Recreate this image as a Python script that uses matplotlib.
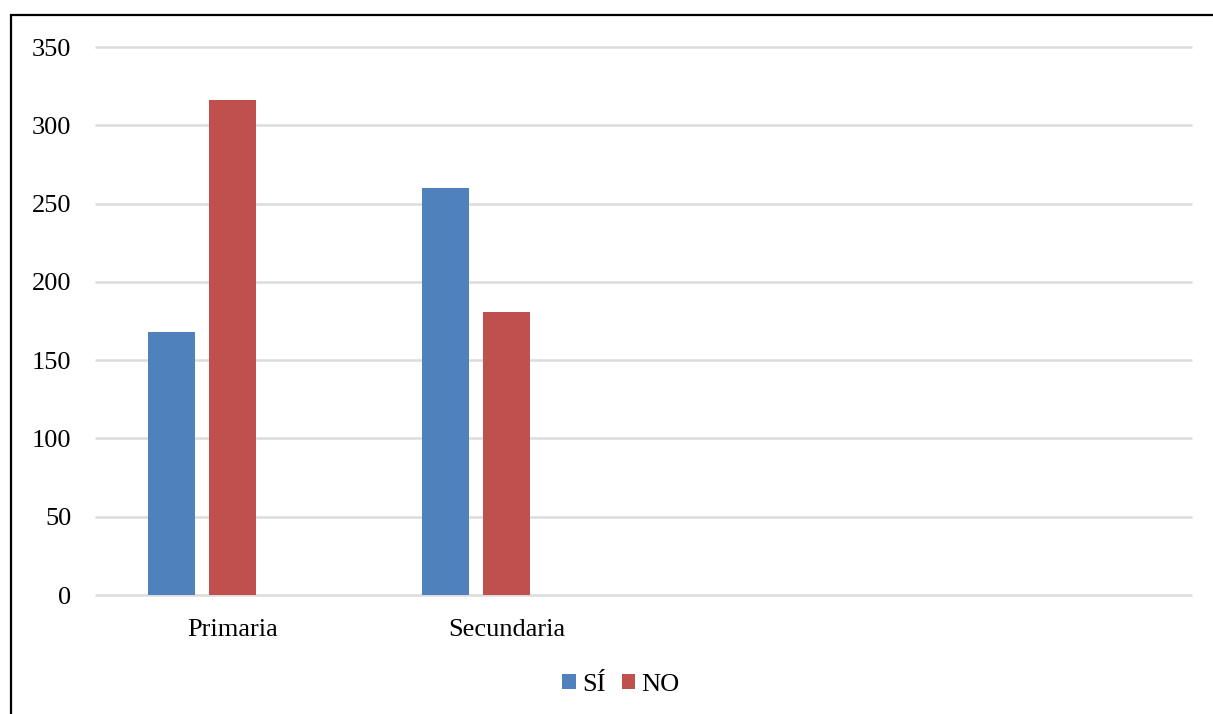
import matplotlib
matplotlib.use("Agg")
import matplotlib.pyplot as plt
import numpy as np
from matplotlib.patches import Rectangle

categories = ["Primaria", "Secundaria", "", ""]
si_values = [168, 260]
no_values = [316, 181]
y_ticks = [0, 50, 100, 150, 200, 250, 300, 350]

plt.rcParams['font.family'] = ['Liberation Serif', 'DejaVu Serif']

fig = plt.figure(figsize=(12.13, 7.14), dpi=100)
ax = fig.add_axes([95 / 1213, 1 - 595 / 714, (1192 - 95) / 1213, (595 - 47) / 714])

x = np.arange(len(categories))
width = 0.171
step = 0.2225
ax.bar(x[:len(si_values)] - step, si_values, width, color="#4F81BD", label="SÍ", zorder=3)
ax.bar(x[:len(no_values)], no_values, width, color="#C0504D", label="NO", zorder=3)

ax.set_xlim(-0.5, len(categories) - 0.5)
ax.set_ylim(0, 350)
ax.set_yticks(y_ticks)
ax.set_xticks(x)
ax.set_xticklabels(categories)
ax.tick_params(axis="both", length=0, labelsize=19)
ax.tick_params(axis="x", pad=17)
ax.tick_params(axis="y", pad=17)
ax.grid(axis="y", color="#dcdcdc", linewidth=1.8, zorder=0)
for line in ax.get_ygridlines():
    line.set_clip_on(False)
    line.set_solid_capstyle("butt")
for s in ax.spines.values():
    s.set_visible(False)

fig.legend(loc="center", bbox_to_anchor=(621 / 1213, 1 - 685 / 714), ncol=2, frameon=False,
           fontsize=19, handlelength=0.5, handleheight=0.5, handletextpad=0.25, columnspacing=0.6)

# outer frame, open at the right and bottom edges
fig.patches.append(Rectangle((11 / 1213, -0.1), 1.2, 1.1 - 15 / 714, transform=fig.transFigure,
                             fill=False, edgecolor="black", linewidth=1.6))

fig.savefig("out.png", dpi=100)
